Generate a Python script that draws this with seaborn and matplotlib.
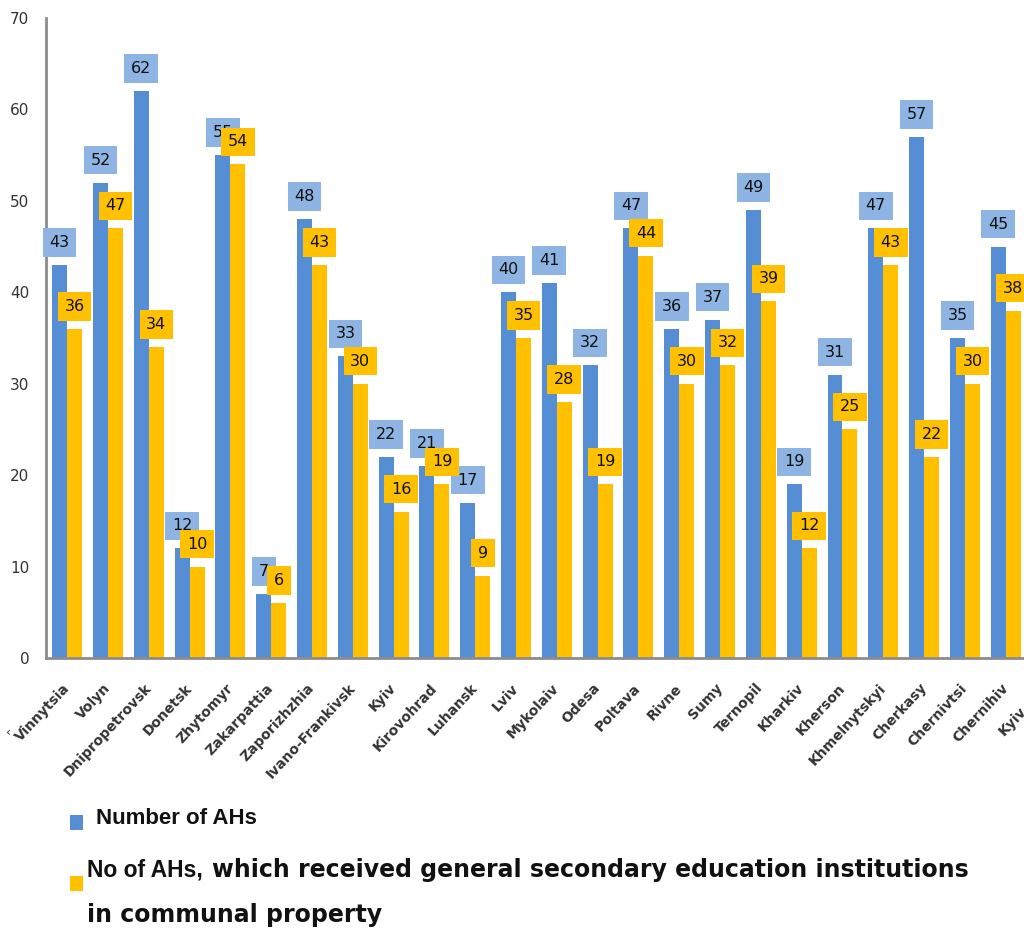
import numpy as np
import pandas as pd
import matplotlib
matplotlib.use("Agg")
import matplotlib.pyplot as plt
import seaborn as sns
from matplotlib.patches import Rectangle

# Data (the last region, Kyiv city, is cut off at the right edge)
regions = ["Vinnytsia", "Volyn", "Dnipropetrovsk", "Donetsk", "Zhytomyr", "Zakarpattia",
           "Zaporizhzhia", "Ivano-Frankivsk", "Kyiv", "Kirovohrad", "Luhansk", "Lviv",
           "Mykolaiv", "Odesa", "Poltava", "Rivne", "Sumy", "Ternopil", "Kharkiv", "Kherson",
           "Khmelnytskyi", "Cherkasy", "Chernivtsi", "Chernihiv", "Kyiv city"]
ahs_total = [43, 52, 62, 12, 55, 7, 48, 33, 22, 21, 17, 40, 41, 32, 47, 36, 37, 49, 19, 31,
             47, 57, 35, 45, np.nan]
ahs_schools = [36, 47, 34, 10, 54, 6, 43, 30, 16, 19, 9, 35, 28, 19, 44, 30, 32, 39, 12, 25,
               43, 22, 30, 38, np.nan]

name_total = "Number of AHs"
name_schools = "No of AHs, which received general secondary education institutions in communal property"

blue = "#558ED5"
blue_box = "#8DB4E2"
yellow = "#FFC000"

df = pd.DataFrame({
    "pos": list(range(len(regions))) * 2,
    "series": [name_total] * len(regions) + [name_schools] * len(regions),
    "value": ahs_total + ahs_schools,
})

sns.set_style("white")
plt.rcParams["font.family"] = ["DejaVu Sans"]
narrow = ["Liberation Sans", "DejaVu Sans"]

W, H = 1024, 932
fig = plt.figure(figsize=(W / 100, H / 100), dpi=100)
ax = fig.add_axes([46 / W, 1 - 658 / H, 1025 / W, 640 / H])

sns.barplot(data=df, x="pos", y="value", hue="series", palette=[blue, yellow],
            width=0.735, gap=0, errorbar=None, saturation=1, linewidth=0,
            legend=False, ax=ax)

ax.set_xlim(-0.52, 24.6)
ax.set_ylim(0, 70)
ax.set_xlabel("")
ax.set_ylabel("")

# value labels in coloured boxes
for cont, box_col, z in zip(ax.containers, [blue_box, yellow], [5, 6]):
    for p in cont:
        h = p.get_height()
        if not np.isfinite(h):
            continue
        ax.annotate(f"{int(h)}", (p.get_x() + p.get_width() / 2, h),
                    xytext=(0, 15), textcoords="offset pixels",
                    ha="center", va="bottom", fontsize=11.5, color="#111111",
                    bbox=dict(boxstyle="square,pad=0.42", fc=box_col, ec="none"),
                    zorder=z, annotation_clip=False)

ax.set_yticks(range(0, 71, 10))
ax.tick_params(axis="y", length=0, pad=12, labelsize=11, labelcolor="#333333")
ax.set_xticks(range(len(regions)))
ax.set_xticklabels(regions, rotation=47, ha="right", va="center", rotation_mode="anchor",
                   fontsize=10, fontweight="bold", color="#333333")
ax.tick_params(axis="x", length=0, pad=20)

for s in ["top", "right"]:
    ax.spines[s].set_visible(False)
for s in ["left", "bottom"]:
    ax.spines[s].set_color("#8c8c8c")
    ax.spines[s].set_linewidth(2)

# legend drawn by hand below the chart
fig.add_artist(Rectangle((70 / W, 1 - 830 / H), 13 / W, 15 / H, transform=fig.transFigure,
                         fc=blue, ec="none"))
fig.add_artist(Rectangle((70 / W, 1 - 891 / H), 13 / W, 15 / H, transform=fig.transFigure,
                         fc=yellow, ec="none"))
fig.text(96 / W, 1 - 818 / H, "Number of AHs", family=narrow,
         fontsize=16, fontweight="bold", va="center", color="#111111")
fig.text(87 / W, 1 - 870 / H, "No of AHs,", family=narrow,
         fontsize=16.5, fontweight="bold", va="center", color="#111111")
fig.text(212 / W, 1 - 870 / H, "which received general secondary education institutions",
         fontsize=17, fontweight="bold", va="center", color="#111111")
fig.text(87 / W, 1 - 915 / H, "in communal property",
         fontsize=17, fontweight="bold", va="center", color="#111111")
fig.text(6 / W, 1 - 732 / H, "‹", fontsize=9, va="center", color="#333333")

fig.savefig("out.png", dpi=100)
